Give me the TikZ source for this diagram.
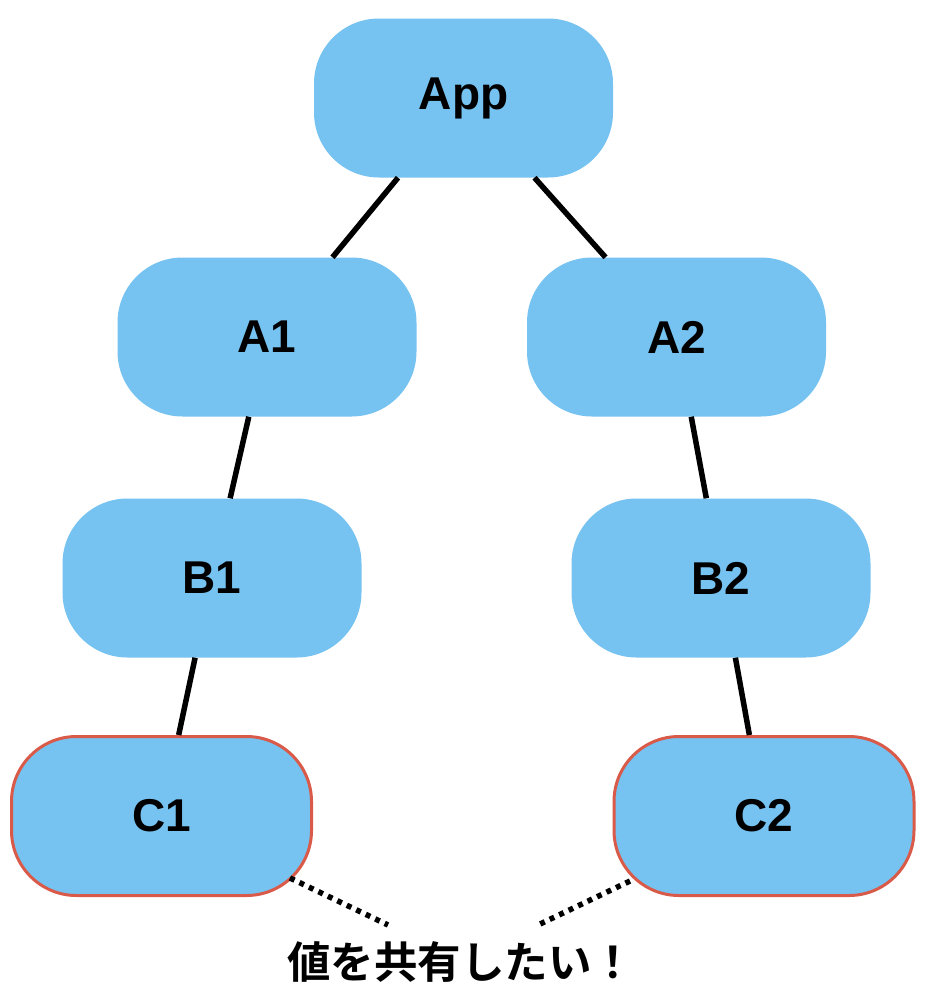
\documentclass[tikz,border=0pt]{standalone}
\usepackage{fontspec}
\setmainfont{Liberation Sans}
\newfontfamily\jpfont{Noto Sans CJK JP}[BoldFont={* Bold}]
\definecolor{boxblue}{RGB}{118,194,240}
\definecolor{boxred}{RGB}{217,90,72}
\begin{document}
\begin{tikzpicture}[x=1pt,y=-1pt,
  comp/.style={rectangle, rounded corners=65pt, fill=boxblue, minimum width=299pt, minimum height=159pt, inner sep=0pt, font=\fontsize{46}{50}\selectfont\bfseries},
  shared/.style={comp, draw=boxred, line width=3pt, minimum width=300pt},
  link/.style={line width=5.5pt},
  dots/.style={line width=5.5pt, dash pattern=on 5pt off 5.5pt}
]
\useasboundingbox (0,0) rectangle (928,994);
\node[comp] (app) at (463.5,98) {App};
\node[comp] (a1) at (267,337) {A1};
\node[comp] (a2) at (676.5,337) {A2};
\node[comp] (b1) at (212,578) {B1};
\node[comp] (b2) at (721,578) {B2};
\node[shared] (c1) at (161.5,816) {C1};
\node[shared] (c2) at (764,816) {C2};
\draw[link] (app) -- (a1);
\draw[link] (app) -- (a2);
\draw[link] (a1) -- (b1);
\draw[link] (a2) -- (b2);
\draw[link] (b1) -- (c1);
\draw[link] (b2) -- (c2);
\node[font=\jpfont\bfseries\fontsize{43.5}{46}\selectfont, inner sep=0pt] (msg) at (461,962) {値を共有したい！};
\coordinate (d1s) at (290,878);
\coordinate (d1e) at (388,925);
\coordinate (d2s) at (630,881);
\coordinate (d2e) at (538,925);
\draw[dots] (d1s) -- (d1e);
\draw[dots] (d2s) -- (d2e);
\end{tikzpicture}
\end{document}
